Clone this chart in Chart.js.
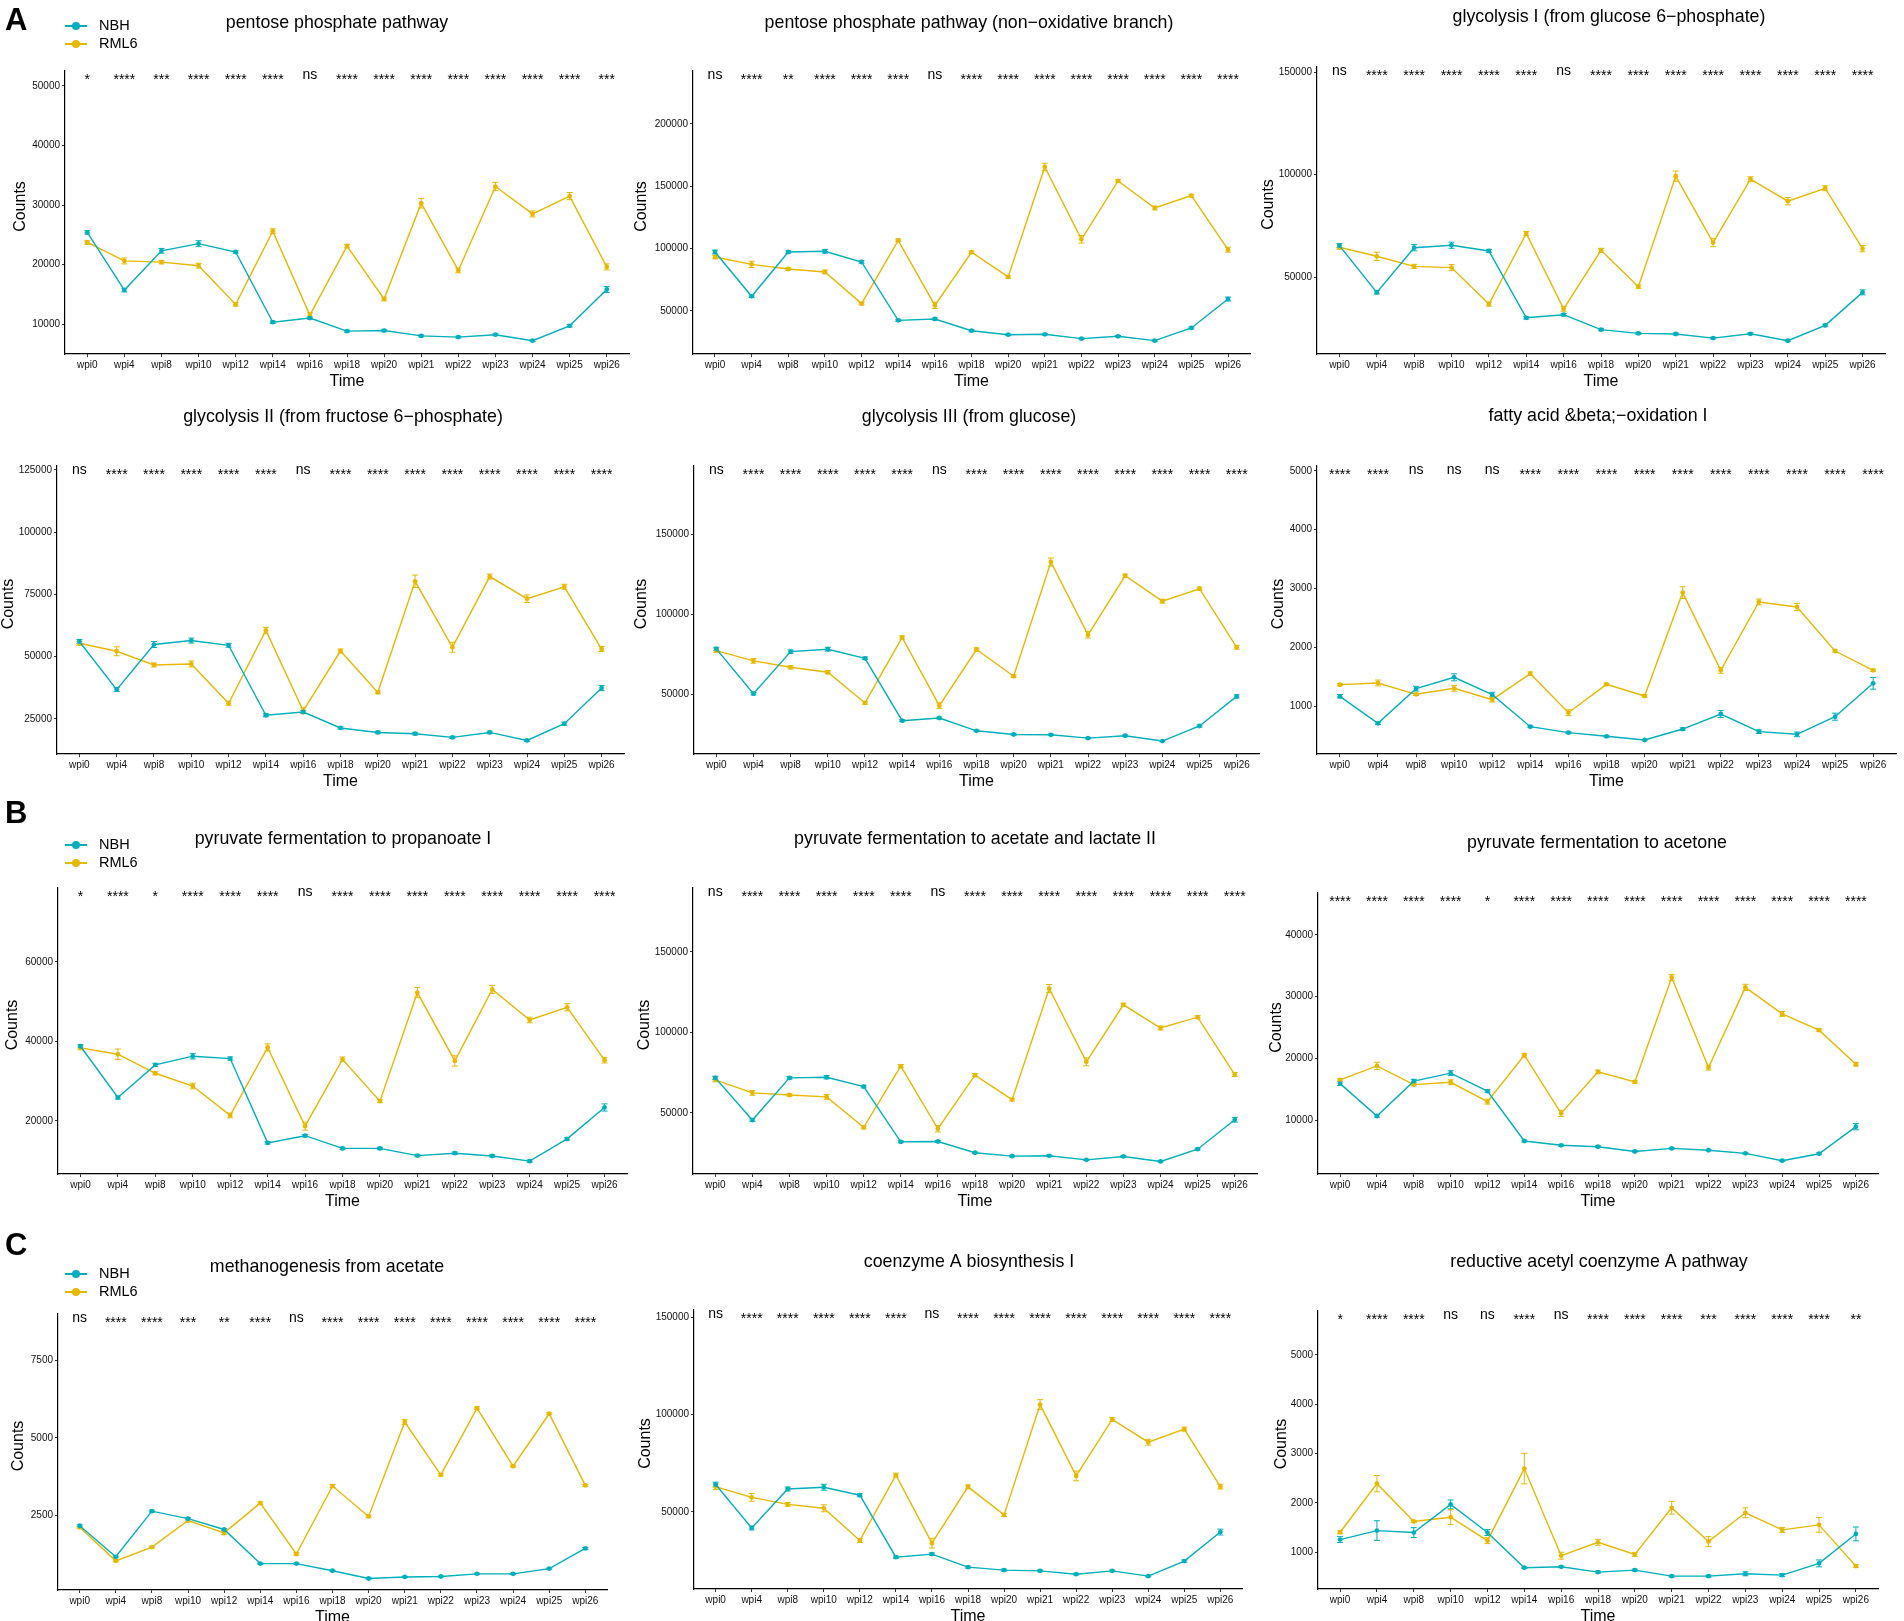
<!DOCTYPE html>
<html><head><meta charset="utf-8">
<script src="https://cdn.jsdelivr.net/npm/chart.js@4.4.1/dist/chart.umd.min.js"></script>
<style>
html,body{margin:0;padding:0;background:#fff;}
#wrap{position:relative;width:1904px;height:1621px;overflow:hidden;background:#fff;}
canvas{position:absolute;}
</style></head><body><div id="wrap"></div>
<script>
// ---------------- DATA ----------------
const timepoints = ['wpi0','wpi4','wpi8','wpi10','wpi12','wpi14','wpi16','wpi18','wpi20','wpi21','wpi22','wpi23','wpi24','wpi25','wpi26'];
const groups = ['NBH','RML6'];

const pppTitle = 'pentose phosphate pathway';
const pppNBH  = [25400,15700,22300,23500,22100,10300,11000,8800,8900,8000,7800,8200,7200,9700,15800];
const pppRML6 = [23700,20600,20400,19800,13300,25600,11500,23100,14200,30300,19000,33100,28500,31500,19600];
const pppNBHErr  = [300,300,400,500,200,200,200,150,200,150,150,150,150,200,500];
const pppRML6Err = [300,500,300,400,300,400,400,300,300,800,400,700,500,600,500];
const pppSig = ['*','****','***','****','****','****','ns','****','****','****','****','****','****','****','***'];
const pppTicks = [10000,20000,30000,40000,50000];

const ppnTitle = 'pentose phosphate pathway (non\u2212oxidative branch)';
const ppnNBH  = [97300,61800,97300,97900,89300,42500,43600,34200,31000,31300,27800,29700,26200,36400,59600];
const ppnRML6 = [93300,87400,83700,81300,55900,106700,54500,97100,77300,165500,107500,154300,132600,142500,99200];
const ppnNBHErr  = [1500,1000,1000,1500,1000,800,800,800,600,600,500,600,500,800,1500];
const ppnRML6Err = [1500,2500,1000,1500,1000,1000,2500,1000,1000,3000,3000,1000,1500,1000,2000];
const ppnSig = ['ns','****','**','****','****','****','ns','****','****','****','****','****','****','****','****'];
const ppnTicks = [50000,100000,150000,200000];

const gly1Title = 'glycolysis I (from glucose 6\u2212phosphate)';
const gly1NBH  = [65300,42500,64300,65500,62700,30100,31600,24300,22500,22200,20200,22300,18900,26400,42500];
const gly1RML6 = [64500,60100,55200,54600,36800,71200,34500,63000,45300,99200,66800,97700,87000,93300,63800];
const gly1NBHErr  = [1000,800,1500,1500,800,600,600,500,500,500,400,500,400,600,1200];
const gly1RML6Err = [1000,2000,1000,1500,1000,1000,1200,1000,800,2500,2000,1200,1800,1200,1500];
const gly1Sig = ['ns','****','****','****','****','****','ns','****','****','****','****','****','****','****','****'];
const gly1Ticks = [50000,100000,150000];

const gly2Title = 'glycolysis II (from fructose 6\u2212phosphate)';
const gly2NBH  = [56100,36800,54900,56500,54600,26500,27800,21400,19600,19100,17600,19600,16400,23100,37400];
const gly2RML6 = [55400,52200,46700,47100,31300,60600,28300,52300,35700,80300,53800,82200,73300,78100,53100];
const gly2NBHErr  = [800,800,1200,1000,800,600,600,500,500,500,400,500,400,600,1000];
const gly2RML6Err = [800,1800,800,1200,800,1200,1200,800,600,2500,2000,1000,1500,1000,1000];
const gly2Sig = ['ns','****','****','****','****','****','ns','****','****','****','****','****','****','****','****'];
const gly2Ticks = [25000,50000,75000,100000,125000];

const gly3Title = 'glycolysis III (from glucose)';
const gly3NBH  = [78200,50200,76500,78000,72300,33300,35000,27000,24700,24500,22400,23900,20600,30000,48500];
const gly3RML6 = [77100,70700,66700,63600,44400,85300,42700,77800,61100,132500,87000,123900,108000,115800,79200];
const gly3NBHErr  = [1000,800,1000,1200,800,600,600,500,500,500,400,500,400,600,1000];
const gly3RML6Err = [1200,1500,1000,1000,800,1000,1800,1000,800,2500,2000,1000,1200,1000,1200];
const gly3Sig = ['ns','****','****','****','****','****','ns','****','****','****','****','****','****','****','****'];
const gly3Ticks = [50000,100000,150000];

const faoTitle = 'fatty acid &beta;\u2212oxidation I';
const faoNBH  = [1165,705,1295,1488,1193,648,546,484,421,608,864,563,518,818,1386];
const faoRML6 = [1363,1392,1199,1301,1108,1550,886,1369,1170,2930,1607,2771,2686,1936,1607];
const faoNBHErr  = [30,20,40,60,40,15,15,15,10,20,60,30,40,60,100];
const faoRML6Err = [20,50,20,50,40,30,50,20,20,100,50,50,60,20,20];
const faoSig = ['****','****','ns','ns','ns','****','****','****','****','****','****','****','****','****','****'];
const faoTicks = [1000,2000,3000,4000,5000];

const propTitle = 'pyruvate fermentation to propanoate I';
const propNBH  = [38800,25900,34100,36300,35700,14500,16300,13100,13100,11300,11900,11200,9900,15500,23400];
const propRML6 = [38400,36800,32000,28800,21400,38500,18700,35500,25000,52300,35100,53100,45400,48600,35300];
const propNBHErr  = [400,400,400,700,400,300,300,300,300,300,300,300,300,300,900];
const propRML6Err = [500,1300,400,700,600,900,1000,600,400,1300,1300,1000,700,900,700];
const propSig = ['*','****','*','****','****','****','ns','****','****','****','****','****','****','****','****'];
const propTicks = [20000,40000,60000];

const aclTitle = 'pyruvate fermentation to acetate and lactate II';
const aclNBH  = [71800,45600,71800,72200,66400,32100,32300,25300,23200,23400,20900,23000,19900,27500,45800];
const aclRML6 = [70600,62500,61200,60000,41100,79100,40200,73500,58300,127300,81800,117200,102800,109500,73900];
const aclNBHErr  = [1000,800,800,1000,800,600,600,500,500,500,400,500,400,600,1500];
const aclRML6Err = [1200,1500,800,1500,1000,1000,2000,1000,800,2500,2500,1000,1200,1000,1200];
const aclSig = ['ns','****','****','****','****','****','ns','****','****','****','****','****','****','****','****'];
const aclTicks = [50000,100000,150000];

const acnTitle = 'pyruvate fermentation to acetone';
const acnNBH  = [15900,10650,16300,17600,14700,6600,5900,5670,4900,5400,5100,4600,3400,4530,8920];
const acnRML6 = [16500,18770,15740,16120,12980,20500,11080,17800,16170,33100,18500,31500,27200,24560,19040];
const acnNBHErr  = [300,200,300,400,200,150,150,150,100,100,100,100,100,150,500];
const acnRML6Err = [200,600,200,400,400,300,500,300,200,500,400,500,400,200,300];
const acnSig = ['****','****','****','****','*','****','****','****','****','****','****','****','****','****','****'];
const acnTicks = [10000,20000,30000,40000];

const metTitle = 'methanogenesis from acetate';
const metNBH  = [2170,1170,2640,2400,2050,950,950,720,470,520,535,620,620,790,1440];
const metRML6 = [2120,1040,1480,2340,1940,2900,1260,3450,2470,5510,3810,5960,4090,5780,3470];
const metNBHErr  = [30,30,30,30,30,20,20,20,20,20,20,20,20,20,30];
const metRML6Err = [30,30,30,40,60,40,40,50,40,80,40,40,30,30,30];
const metSig = ['ns','****','****','***','**','****','ns','****','****','****','****','****','****','****','****'];
const metTicks = [2500,5000,7500];

const coaTitle = 'coenzyme A biosynthesis I';
const coaNBH  = [64100,41800,61800,62700,58600,26800,28400,21700,20200,19800,18100,19800,17100,24800,39700];
const coaRML6 = [63000,57500,53900,51900,35400,68900,34000,62900,48500,105100,68500,97500,85800,92500,63000];
const coaNBHErr  = [1200,1000,1000,1500,800,600,600,500,500,500,400,500,400,600,1500];
const coaRML6Err = [1500,2000,1000,1800,1000,1000,2500,1000,800,2500,2500,1000,1500,1000,1200];
const coaSig = ['ns','****','****','****','****','****','ns','****','****','****','****','****','****','****','****'];
const coaTicks = [50000,100000,150000];

const racTitle = 'reductive acetyl coenzyme A pathway';
const racNBH  = [1252,1435,1395,1966,1395,680,700,592,633,510,510,558,531,769,1367];
const racRML6 = [1401,2388,1619,1707,1231,2694,925,1197,952,1898,1211,1796,1449,1551,714];
const racNBHErr  = [60,200,100,90,60,15,15,20,20,20,20,40,30,70,140];
const racRML6Err = [30,165,20,150,60,310,70,60,40,130,100,100,50,150,30];
const racSig = ['*','****','****','ns','ns','****','ns','****','****','****','***','****','****','****','**'];
const racTicks = [1000,2000,3000,4000,5000];

// ---------------- LAYOUT / STYLE ----------------
const COLORS = ['#00AFBB', '#E7B800'];
const FONT = "'Liberation Sans', Arial, Helvetica, sans-serif";
const COLS = [[0,640],[626,1272],[1254,1904]];
const ROWS = [[0,395],[395,790],[790,1210],[1210,1621]];

const panels = [
  {title:pppTitle, s:[pppNBH,pppRML6], e:[pppNBHErr,pppRML6Err], sig:pppSig, ticks:pppTicks, col:0,row:0, plot:[65,71,629,354], y:[4958,52521], tp:[337,23], cx:21, legend:true, letter:['A',30]},
  {title:ppnTitle, s:[ppnNBH,ppnRML6], e:[ppnNBHErr,ppnRML6Err], sig:ppnSig, ticks:ppnTicks, col:1,row:0, plot:[693,71,1250,354], y:[15500,242500], tp:[969,23], cx:642},
  {title:gly1Title, s:[gly1NBH,gly1RML6], e:[gly1NBHErr,gly1RML6Err], sig:gly1Sig, ticks:gly1Ticks, col:2,row:0, plot:[1317,67,1885,354], y:[12440,152440], tp:[1609,17], cx:1269},
  {title:gly2Title, s:[gly2NBH,gly2RML6], e:[gly2NBHErr,gly2RML6Err], sig:gly2Sig, ticks:gly2Ticks, col:0,row:1, plot:[57,466,624,754], y:[10940,126600], tp:[343,417], cx:9},
  {title:gly3Title, s:[gly3NBH,gly3RML6], e:[gly3NBHErr,gly3RML6Err], sig:gly3Sig, ticks:gly3Ticks, col:1,row:1, plot:[694,466,1259,754], y:[12500,192500], tp:[969,417], cx:642},
  {title:faoTitle, s:[faoNBH,faoRML6], e:[faoNBHErr,faoRML6Err], sig:faoSig, ticks:faoTicks, col:2,row:1, plot:[1317,466,1896,754], y:[183,5085], tp:[1598,416], cx:1279},
  {title:propTitle, s:[propNBH,propRML6], e:[propNBHErr,propRML6Err], sig:propSig, ticks:propTicks, col:0,row:2, plot:[58,888,627,1174], y:[6667,78600], tp:[343,839], cx:13, legend:true, letter:['B',823]},
  {title:aclTitle, s:[aclNBH,aclRML6], e:[aclNBHErr,aclRML6Err], sig:aclSig, ticks:aclTicks, col:1,row:2, plot:[693,888,1257,1174], y:[12100,189750], tp:[975,839], cx:645},
  {title:acnTitle, s:[acnNBH,acnRML6], e:[acnNBHErr,acnRML6Err], sig:acnSig, ticks:acnTicks, col:2,row:2, plot:[1318,893,1878,1174], y:[1250,46800], tp:[1597,843], cx:1277},
  {title:metTitle, s:[metNBH,metRML6], e:[metNBHErr,metRML6Err], sig:metSig, ticks:metTicks, col:0,row:3, plot:[58,1314,607,1590], y:[100,8994], tp:[327,1267], cx:19, legend:true, letter:['C',1255]},
  {title:coaTitle, s:[coaNBH,coaRML6], e:[coaNBHErr,coaRML6Err], sig:coaSig, ticks:coaTicks, col:1,row:3, plot:[694,1310,1242,1589], y:[10500,153600], tp:[969,1262], cx:646},
  {title:racTitle, s:[racNBH,racRML6], e:[racNBHErr,racRML6Err], sig:racSig, ticks:racTicks, col:2,row:3, plot:[1318,1311,1878,1589], y:[249,5893], tp:[1599,1262], cx:1282},
];

function overlayFor(p, ox, oy) {
  return {
    id: 'overlay',
    beforeDatasetsDraw(chart) {
      const ctx = chart.ctx, xs = chart.scales.x, ys = chart.scales.y;
      ctx.save();
      ctx.lineWidth = 1;
      p.s.forEach((vals, k) => {
        ctx.strokeStyle = COLORS[k];
        vals.forEach((v, i) => {
          const e = p.e[k][i];
          if (!e) return;
          const x = xs.getPixelForValue(i);
          const y1 = ys.getPixelForValue(v - e), y2 = ys.getPixelForValue(v + e);
          ctx.beginPath();
          ctx.moveTo(x, y1); ctx.lineTo(x, y2);
          ctx.moveTo(x - 3, y1); ctx.lineTo(x + 3, y1);
          ctx.moveTo(x - 3, y2); ctx.lineTo(x + 3, y2);
          ctx.stroke();
        });
      });
      ctx.restore();
    },
    afterDraw(chart) {
      const ctx = chart.ctx, xs = chart.scales.x, area = chart.chartArea;
      ctx.save();
      ctx.fillStyle = '#000';
      // title
      ctx.font = '17.8px ' + FONT;
      ctx.textAlign = 'center'; ctx.textBaseline = 'middle';
      ctx.fillText(p.title, p.tp[0] - ox, p.tp[1] - oy);
      // x axis title
      ctx.font = '16px ' + FONT;
      ctx.fillText('Time', (area.left + area.right) / 2, area.bottom + 28);
      // y axis title
      ctx.save();
      ctx.translate(p.cx - ox, (area.top + area.bottom) / 2 - 6);
      ctx.rotate(-Math.PI / 2);
      ctx.fillText('Counts', 0, 0);
      ctx.restore();
      // significance labels
      ctx.font = '14px ' + FONT;
      ctx.textBaseline = 'alphabetic';
      p.sig.forEach((s, i) => {
        const x = xs.getPixelForValue(i);
        const y = s === 'ns' ? area.top + 8 : area.top + 13;
        ctx.fillText(s, x, y);
      });
      // legend
      if (p.legend) {
        const lx = 65 - ox;
        const ly0 = (p.row === 0 ? 26 : p.row === 2 ? 845 : 1274) - oy;
        groups.forEach((g, k) => {
          const y = ly0 + k * 18;
          ctx.strokeStyle = COLORS[k]; ctx.fillStyle = COLORS[k]; ctx.lineWidth = 2;
          ctx.beginPath(); ctx.moveTo(lx, y); ctx.lineTo(lx + 22, y); ctx.stroke();
          ctx.beginPath(); ctx.arc(lx + 11, y, 4, 0, Math.PI * 2); ctx.fill();
          ctx.fillStyle = '#000';
          ctx.font = '14.5px ' + FONT; ctx.textAlign = 'left'; ctx.textBaseline = 'middle';
          ctx.fillText(g, lx + 34, y);
        });
      }
      if (p.letter) {
        ctx.fillStyle = '#000';
        ctx.font = 'bold 31px ' + FONT; ctx.textAlign = 'left'; ctx.textBaseline = 'alphabetic';
        ctx.fillText(p.letter[0], 5 - ox, p.letter[1] - oy);
      }
      ctx.restore();
    }
  };
}

const wrap = document.getElementById('wrap');
panels.forEach((p) => {
  const [cx0, cx1] = COLS[p.col], [cy0, cy1] = ROWS[p.row];
  const w = cx1 - cx0, h = cy1 - cy0;
  const [L, T, R, B] = p.plot;
  const cv = document.createElement('canvas');
  cv.width = w; cv.height = h;
  cv.style.left = cx0 + 'px'; cv.style.top = cy0 + 'px';
  cv.style.width = w + 'px'; cv.style.height = h + 'px';
  wrap.appendChild(cv);
  new Chart(cv, {
    type: 'line',
    data: {
      datasets: groups.map((g, k) => ({
        label: g,
        data: p.s[k].map((v, i) => ({ x: i, y: v })),
        borderColor: COLORS[k],
        backgroundColor: COLORS[k],
        pointBackgroundColor: COLORS[k],
        borderWidth: 1.4,
        pointRadius: 2.4,
        pointBorderWidth: 0,
        tension: 0,
        clip: false,
      })),
    },
    options: {
      responsive: false,
      animation: false,
      events: [],
      layout: { padding: { left: 0, top: T - cy0, right: cx1 - R, bottom: 0 } },
      plugins: { legend: { display: false }, tooltip: { enabled: false }, title: { display: false } },
      scales: {
        x: {
          type: 'linear', min: -0.6, max: 14.6,
          afterBuildTicks: (s) => { s.ticks = timepoints.map((_, i) => ({ value: i })); },
          afterFit: (s) => { s.height = cy1 - B; },
          ticks: { callback: (v) => timepoints[v], font: { size: 10, family: FONT }, color: '#111', padding: 2, maxRotation: 0, autoSkip: false },
          grid: { drawOnChartArea: false, drawTicks: true, tickLength: 3, color: '#333', lineWidth: 1 },
          border: { display: true, color: '#000', width: 1.2 },
        },
        y: {
          type: 'linear', min: p.y[0], max: p.y[1],
          afterBuildTicks: (s) => { s.ticks = p.ticks.map((v) => ({ value: v })); },
          afterFit: (s) => { s.width = L - cx0; },
          ticks: { callback: (v) => String(v), font: { size: 10, family: FONT }, color: '#111', padding: 2, autoSkip: false },
          grid: { drawOnChartArea: false, drawTicks: true, tickLength: 3, color: '#333', lineWidth: 1 },
          border: { display: true, color: '#000', width: 1.2 },
        },
      },
    },
    plugins: [overlayFor(p, cx0, cy0)],
  });
});
</script>
</body></html>
